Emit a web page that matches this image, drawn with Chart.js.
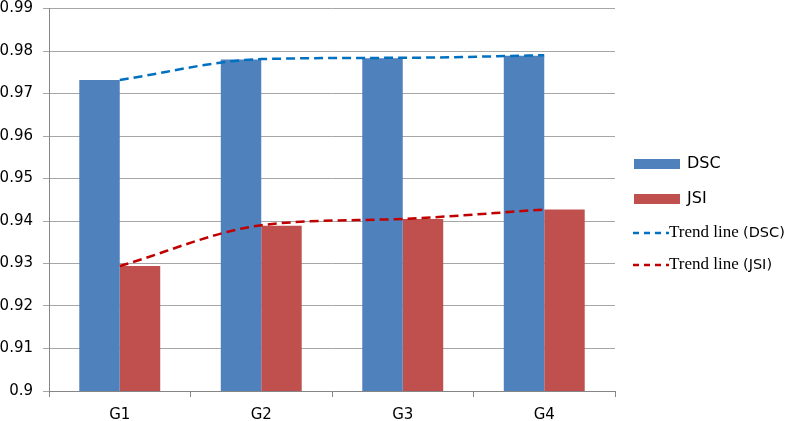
<!DOCTYPE html>
<html lang="en">
<head>
    <meta charset="UTF-8">
    <title>DSC / JSI</title>
    <style>
        body {
            margin: 0;
            padding: 0;
            background-color: #ffffff;
        }
        .wrap {
            position: relative;
            width: 787px;
            height: 421px;
        }
    </style>
    <script src="https://cdn.jsdelivr.net/npm/chart.js"></script>
</head>
<body>

    <div class="wrap">
        <canvas id="dscChart"></canvas>
    </div>

    <script>
        // data
        var groups = ['G1', 'G2', 'G3', 'G4'];
        var dscValues = [0.9732, 0.9780, 0.9783, 0.9789];
        var jsiValues = [0.9294, 0.9389, 0.9405, 0.9427];
        var dscTrend = [0.9732, 0.9781, 0.9784, 0.9790];
        var jsiTrend = [0.9294, 0.9390, 0.9405, 0.9427];

        var blueBar = '#4F81BD';
        var redBar = '#C0504D';
        var blueTrend = '#0070C0';
        var redTrend = '#C00000';

        // legend on the right, drawn by hand (mixed fonts like the original)
        var sideLegend = {
            id: 'sideLegend',
            afterDraw: function (chart) {
                var ctx = chart.ctx;
                var x0 = 633;
                ctx.save();
                ctx.textBaseline = 'middle';
                ctx.textAlign = 'left';

                // bar entries
                var barItems = [
                    { label: 'DSC', color: blueBar, y: 164 },
                    { label: 'JSI', color: redBar, y: 199 }
                ];
                barItems.forEach(function (it) {
                    ctx.fillStyle = it.color;
                    ctx.fillRect(x0 + 1, it.y - 5, 46, 10);
                    ctx.fillStyle = '#000000';
                    ctx.font = '16px "DejaVu Sans"';
                    ctx.fillText(it.label, x0 + 54, it.y);
                });

                // trend entries
                var lineItems = [
                    { tag: '(DSC)', color: blueTrend, y: 233 },
                    { tag: '(JSI)', color: redTrend, y: 265 }
                ];
                lineItems.forEach(function (it) {
                    ctx.strokeStyle = it.color;
                    ctx.lineWidth = 2.5;
                    ctx.setLineDash([6, 5]);
                    ctx.beginPath();
                    ctx.moveTo(x0, it.y);
                    ctx.lineTo(x0 + 36, it.y);
                    ctx.stroke();
                    ctx.setLineDash([]);
                    ctx.fillStyle = '#000000';
                    ctx.font = '17px "Liberation Serif"';
                    var txt = 'Trend line ';
                    ctx.fillText(txt, x0 + 36, it.y);
                    var w = ctx.measureText(txt).width;
                    ctx.font = '14.5px "DejaVu Sans"';
                    ctx.fillText(it.tag, x0 + 36 + w, it.y);
                });
                ctx.restore();
            }
        };

        var ctxMain = document.getElementById('dscChart').getContext('2d');
        var dscChart = new Chart(ctxMain, {
            type: 'bar',
            data: {
                labels: groups,
                datasets: [{
                    type: 'line',
                    label: 'Trend line (DSC)',
                    data: dscTrend,
                    borderColor: blueTrend,
                    borderWidth: 2.5,
                    borderDash: [9, 5],
                    pointRadius: 0,
                    cubicInterpolationMode: 'monotone',
                    fill: false,
                    order: 0
                }, {
                    type: 'line',
                    label: 'Trend line (JSI)',
                    data: jsiTrend,
                    borderColor: redTrend,
                    borderWidth: 2.5,
                    borderDash: [9, 5],
                    pointRadius: 0,
                    cubicInterpolationMode: 'monotone',
                    fill: false,
                    order: 0
                }, {
                    label: 'DSC',
                    data: dscValues,
                    backgroundColor: blueBar,
                    barPercentage: 1,
                    categoryPercentage: 0.572,
                    order: 1
                }, {
                    label: 'JSI',
                    data: jsiValues,
                    backgroundColor: redBar,
                    barPercentage: 1,
                    categoryPercentage: 0.572,
                    order: 1
                }]
            },
            options: {
                responsive: true,
                maintainAspectRatio: false,
                animation: false,
                layout: {
                    padding: { top: 8.5, right: 172, bottom: 0, left: 0 }
                },
                plugins: {
                    legend: { display: false },
                    tooltip: { enabled: false }
                },
                scales: {
                    x: {
                        afterFit: function (scale) {
                            scale.height = 30;
                        },
                        grid: {
                            drawOnChartArea: false,
                            color: '#868686',
                            tickLength: 6
                        },
                        border: { color: '#868686' },
                        ticks: {
                            color: '#000000',
                            padding: 9,
                            font: { family: 'DejaVu Sans', size: 15 }
                        }
                    },
                    y: {
                        min: 0.9,
                        max: 0.99,
                        afterFit: function (scale) {
                            scale.width = 49;
                            scale.paddingTop = 0;
                            scale.paddingBottom = 0;
                        },
                        grid: {
                            color: '#a6a6a6',
                            tickLength: 6
                        },
                        border: { color: '#868686' },
                        ticks: {
                            stepSize: 0.01,
                            color: '#000000',
                            padding: 10,
                            font: { family: 'DejaVu Sans', size: 15 },
                            callback: function (v) {
                                return parseFloat(v.toFixed(2)).toString();
                            }
                        }
                    }
                }
            },
            plugins: [sideLegend]
        });
    </script>
</body>
</html>
